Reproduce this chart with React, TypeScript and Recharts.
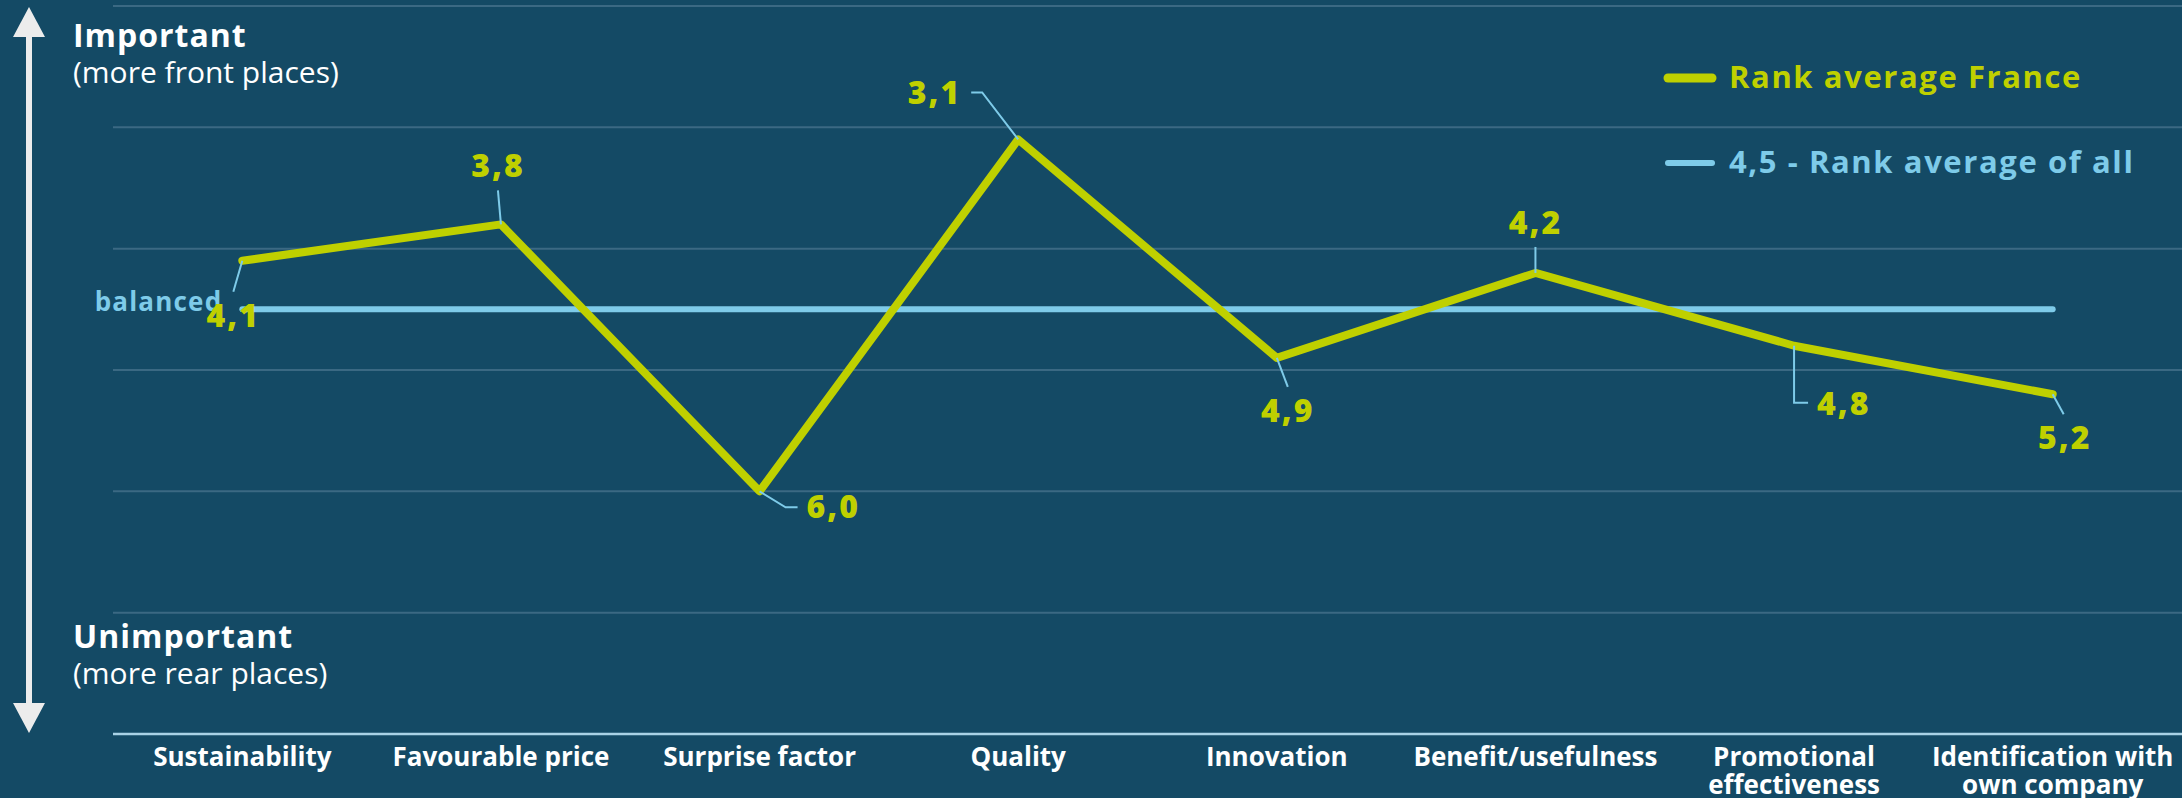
import { LineChart, Line, XAxis, YAxis, CartesianGrid, Legend, LabelList } from 'recharts'

const categories = [
  'Sustainability',
  'Favourable price',
  'Surprise factor',
  'Quality',
  'Innovation',
  'Benefit/usefulness',
  'Promotional effectiveness',
  'Identification with own company',
]
const franceRank = [4.1, 3.8, 6.0, 3.1, 4.9, 4.2, 4.8, 5.2]
const allRank = [4.5, 4.5, 4.5, 4.5, 4.5, 4.5, 4.5, 4.5]
const rankTicks = [2, 3, 4, 5, 6, 7, 8]

const BG = '#144a65'
const LIME = '#bfd000'
const SKY = '#7ecbe9'
const FONT = '"Open Sans", "Noto Sans", sans-serif'

// callout placement per point: leader polyline + text position, relative to the point
const callouts: { leader: number[][]; tx: number; ty: number; anchor: 'start' | 'middle' | 'end' }[] = [
  { leader: [[-9, 31]], tx: -9, ty: 66, anchor: 'middle' },
  { leader: [[-3, -34]], tx: -3, ty: -47, anchor: 'middle' },
  { leader: [[26, 16], [38, 16]], tx: 47, ty: 27, anchor: 'start' },
  { leader: [[-36, -47], [-47, -47]], tx: -57, ty: -35, anchor: 'end' },
  { leader: [[11, 29]], tx: 11, ty: 64, anchor: 'middle' },
  { leader: [[0, -26]], tx: 0, ty: -39, anchor: 'middle' },
  { leader: [[0, 57], [14, 57]], tx: 23, ty: 69, anchor: 'start' },
  { leader: [[11, 20]], tx: 12, ty: 55, anchor: 'middle' },
]

const data = categories.map((c, i) => ({ cat: c, france: franceRank[i], all: allRank[i] }))

const fmt = (v: number) => v.toFixed(1).replace('.', ',')

function wrap(s: string, max: number) {
  const out: string[] = []
  let cur = ''
  for (const w of s.split(' ')) {
    const next = cur ? cur + ' ' + w : w
    if (next.length > max && cur) {
      out.push(cur)
      cur = w
    } else cur = next
  }
  if (cur) out.push(cur)
  return out
}

function CatTick(props: any) {
  const { x, y, payload } = props
  const lines = wrap(String(payload.value), 20)
  return (
    <g transform={`translate(${x},${y})`}>
      {lines.map((l, i) => (
        <text key={i} x={0} y={30 + i * 28} textAnchor="middle" fill="#fff"
          fontSize={26} fontWeight={700} fontFamily={FONT}>{l}</text>
      ))}
    </g>
  )
}

function pointOf(props: any) {
  const x = props.x ?? props.viewBox?.x
  const y = props.y ?? props.viewBox?.y
  return [Number(x), Number(y)]
}

function FranceLabel(props: any) {
  const c = callouts[props.index]
  if (!c) return null
  const [x, y] = pointOf(props)
  const pts = [[0, 0], ...c.leader].map(([dx, dy]) => `${x + dx},${y + dy}`).join(' ')
  return (
    <g>
      <polyline points={pts} fill="none" stroke={SKY} strokeWidth={2} />
      <text x={x + c.tx} y={y + c.ty} textAnchor={c.anchor} fill={LIME}
        fontSize={32} fontWeight={800} letterSpacing={2} fontFamily={FONT}>{fmt(Number(props.value))}</text>
    </g>
  )
}

function BalancedLabel(props: any) {
  if (props.index !== 0) return null
  const [x, y] = pointOf(props)
  return (
    <text x={x - 20} y={y + 2} textAnchor="end" fill={SKY}
      fontSize={26} fontWeight={700} letterSpacing={1.2} fontFamily={FONT}>balanced</text>
  )
}

function LegendBox(props: any) {
  const items = [...(props.payload || [])].sort((a: any) => (a.dataKey === 'france' ? -1 : 1))
  return (
    <svg width={532} height={150}>
      {items.map((it: any, i: number) => {
        const y = 38 + i * 85
        const thick = it.dataKey === 'france' ? 9 : 6
        return (
          <g key={i}>
            <line x1={18} x2={62} y1={y} y2={y} stroke={it.color} strokeWidth={thick} strokeLinecap="round" />
            <text x={79} y={y + 10} fill={it.color} fontSize={31} fontWeight={700}
              fontFamily={FONT} letterSpacing={1.6}>{it.value}</text>
          </g>
        )
      })}
    </svg>
  )
}

export default function App() {
  return (
    <div style={{ position: 'absolute', left: 0, top: 0, width: 2182, height: 798, background: BG }}>
      <LineChart width={2182} height={798} data={data} margin={{ top: 6, right: 0, bottom: 0, left: 113 }}>
        <CartesianGrid vertical={false} stroke="#3b6983" strokeWidth={2} />
        <XAxis dataKey="cat" scale="band" height={64} interval={0} tickLine={false} tickSize={0}
          axisLine={{ stroke: '#a9d2e6', strokeWidth: 2.5 }} tick={<CatTick />} />
        <YAxis hide reversed domain={[2, 8]} ticks={rankTicks} />
        <Legend layout="horizontal" verticalAlign="middle" align="center" content={<LegendBox />}
          wrapperStyle={{ top: 40, left: 1650, width: 532, height: 150 }} />
        <Line dataKey="all" name="4,5 - Rank average of all" stroke={SKY} strokeWidth={6}
          strokeLinecap="round" dot={false} isAnimationActive={false}>
          <LabelList dataKey="all" content={<BalancedLabel />} />
        </Line>
        <Line dataKey="france" name="Rank average France" stroke={LIME} strokeWidth={8}
          strokeLinecap="round" strokeLinejoin="round" dot={false} isAnimationActive={false}>
          <LabelList dataKey="france" content={<FranceLabel />} />
        </Line>
      </LineChart>
      <svg width={360} height={798} style={{ position: 'absolute', left: 0, top: 0, pointerEvents: 'none' }}>
        <rect x={26} y={34} width={6} height={672} fill="#ececec" />
        <polygon points="29,7 13,37 45,37" fill="#ececec" />
        <polygon points="29,733 13,703 45,703" fill="#ececec" />
        <text x={73} y={47} fill="#fff" fontSize={32} fontWeight={700} letterSpacing={1} fontFamily={FONT}>Important</text>
        <text x={73} y={83} fill="#fff" fontSize={30} fontFamily={FONT}>(more front places)</text>
        <text x={73} y={648} fill="#fff" fontSize={32} fontWeight={700} letterSpacing={1} fontFamily={FONT}>Unimportant</text>
        <text x={73} y={684} fill="#fff" fontSize={30} fontFamily={FONT}>(more rear places)</text>
      </svg>
    </div>
  )
}
